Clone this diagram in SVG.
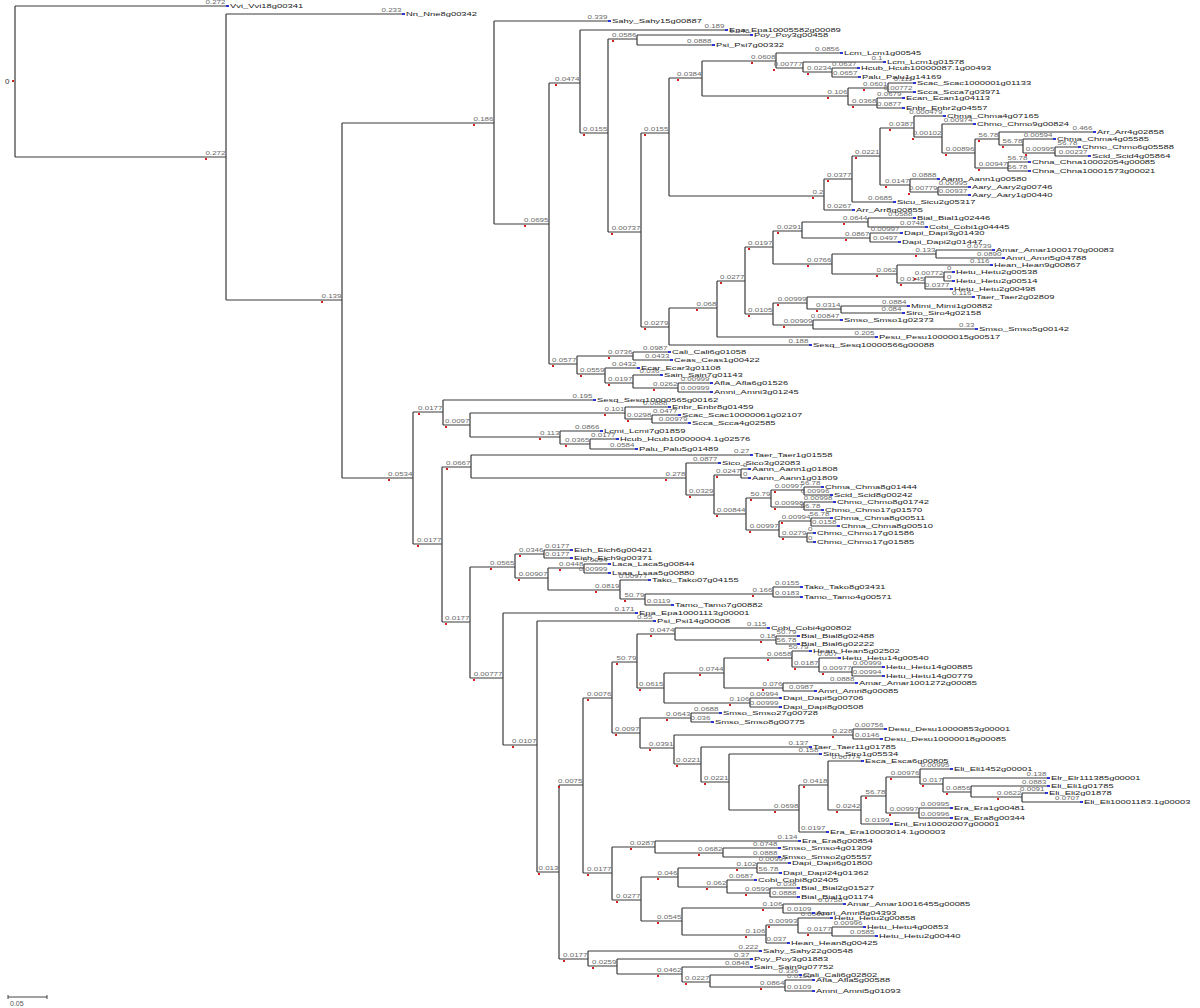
<svg xmlns="http://www.w3.org/2000/svg" width="1200" height="1008" viewBox="0 0 1200 1008">
<style>
.c{fill:none;stroke:#3a3a3a;stroke-width:1.2}
.bl text{font-family:"Liberation Sans",Arial,sans-serif;font-size:8px;fill:#6a6a6a;text-anchor:end;transform-box:fill-box;transform-origin:0 50%;transform:scaleY(.6)}
.lf{font-family:"Liberation Sans",Arial,sans-serif;font-size:9.4px;fill:#1a1a1a;transform-box:fill-box;transform-origin:0 50%;transform:scaleY(.6)}
.lm{fill:#2b35d6}
.rm rect{fill:#d42020}
</style>
<rect width="1200" height="1008" fill="#fff"/>
<g id="connectors" class="c">
<path d="M15 6V157M15 6H226M15 157H226M226 14V300M226 14H402M226 300H342M342 123V478M342 123H494M342 478H413M494 21V224M494 21H608M494 224H549M549 83V364M549 83H580M549 364H577M580 30V133M580 30H725M580 133H608M608 39V232M608 39H637M608 232H641M637 35V45M637 35H750M637 45H712M641 133V327M641 133H669M641 327H669"/>
<path d="M669 78V196M669 78H702M669 196H824M702 61V96M702 61H776M702 96H848M776 53V68M776 53H840M776 68H803M803 62V72M803 62H883M803 72H832M832 68V77M832 68H857M832 77H858M848 88V105M848 88H888M848 105H877M888 83V92M888 83H913M888 92H913M877 98V108M877 98H902M877 108H902"/>
<path d="M824 179V210M824 179H852M824 210H852M852 156V202M852 156H880M852 202H893M880 128V185M880 128H914M880 185H910M914 116V137M914 116H943M914 137H942M942 124V153M942 124H973M942 153H975M975 139V168M975 139H999M975 168H1008M999 132V145M999 132H1093M999 145H1023M1023 139V153M1023 139H1053M1023 153H1055M1055 147V156M1055 147H1078M1055 156H1088M1008 162V171M1008 162H1028M1008 171H1028M910 179V192M910 179H937M910 192H938M938 187V195M938 187H968M938 195H968"/>
<path d="M669 308V345M669 308H717M669 345H809M717 281V337M717 281H745M717 337H875M745 247V314M745 247H773M745 314H773M773 231V264M773 231H802M773 264H832M802 222V238M802 222H868M802 238H870M868 218V227M868 218H913M868 227H925M870 233V242M870 233H900M870 242H898M832 254V274M832 254H936M832 274H897M936 250V258M936 250H992M936 258H1002M897 265V283M897 265H990M897 283H925M925 277V289M925 277H944M925 289H950M944 272V281M944 272H952M944 281H952M773 303V325M773 303H807M773 325H813M807 297V309M807 297H972M807 309H841M841 306V313M841 306H907M841 313H902M813 320V329M813 320H840M813 329H975"/>
<path d="M577 356V374M577 356H633M577 374H605M633 352V360M633 352H668M633 360H670M605 368V383M605 368H637M605 383H633M633 375V388M633 375H660M633 388H678M678 383V392M678 383H710M678 392H710"/>
<path d="M413 412V544M413 412H443M413 544H442M443 400V425M443 400H593M443 425H470M470 413V437M470 413H625M470 437H560M625 407V419M625 407H668M625 419H652M652 415V423M652 415H678M652 423H688M560 431V444M560 431H600M560 444H590M590 439V449M590 439H616M590 449H635"/>
<path d="M442 467V622M442 467H471M442 622H470M471 455V478M471 455H750M471 478H686M686 463V495M686 463H718M686 495H714M714 475V514M714 475H741M714 514H746M741 469V478M741 469H748M741 478H748M746 498V530M746 498H771M746 530H779M771 490V507M771 490H804M771 507H804M804 487V495M804 487H821M804 495H830M804 502V510M804 502H833M804 510H821M779 521V537M779 521H811M779 537H807M811 518V526M811 518H830M811 526H837M807 533V542M807 533H813M807 542H813"/>
<path d="M470 567V678M470 567H515M470 678H503M515 554V578M515 554H544M515 578H548M544 550V558M544 550H570M544 558H570M548 568V590M548 568H584M548 590H620M584 564V573M584 564H608M584 573H608M620 580V599M620 580H648M620 599H645M645 594V605M645 594H773M645 605H671M773 587V597M773 587H800M773 597H800"/>
<path d="M503 613V745M503 613H635M503 745H537M537 621V872M537 621H653M537 872H559M559 785V959M559 785H583M559 959H588M583 698V873M583 698H612M583 873H612"/>
<path d="M612 662V733M612 662H637M612 733H640M637 634V688M637 634H675M637 688H664M675 628V640M675 628H767M675 640H776M776 636V644M776 636H797M776 644H797M664 673V703M664 673H724M664 703H750M724 658V688M724 658H792M724 688H783M792 651V667M792 651H809M792 667H819M819 658V672M819 658H838M819 672H852M852 667V676M852 667H882M852 676H882M783 683V691M783 683H855M783 691H814M750 698V707M750 698H779M750 707H779"/>
<path d="M640 718V748M640 718H691M640 748H674M691 713V722M691 713H719M691 722H711M674 735V764M674 735H853M674 764H701M853 729V739M853 729H884M853 739H880M701 747V782M701 747H809M701 782H729M729 754V810M729 754H819M729 810H799M799 785V832M799 785H828M799 832H826M828 761V810M828 761H861M828 810H861M861 796V824M861 796H886M861 824H890M886 777V813M886 777H920M886 813H919M920 769V784M920 769H950M920 784H943M943 778V792M943 778H1047M943 792H971M971 786V797M971 786H1047M971 797H1022M1022 793V802M1022 793H1045M1022 802H1080M919 808V818M919 808H950M919 818H950"/>
<path d="M612 847V900M612 847H655M612 900H641M655 841V853M655 841H798M655 853H723M723 848V857M723 848H778M723 857H778M641 877V921M641 877H678M641 921H682M678 868V887M678 868H757M678 887H727M757 863V873M757 863H788M757 873H779M727 880V893M727 880H754M727 893H770M770 888V897M770 888H797M770 897H797M682 908V935M682 908H783M682 935H766M783 904V913M783 904H843M783 913H812M766 925V943M766 925H798M766 943H787M798 918V933M798 918H830M798 933H832M832 927V936M832 927H863M832 936H875"/>
<path d="M588 951V966M588 951H759M588 966H617M617 959V974M617 959H750M617 974H682M682 967V982M682 967H750M682 982H710M710 975V987M710 975H799M710 987H785M785 980V991M785 980H812M785 991H812"/>
</g>
<g id="scale-bar">
<path d="M8 997H47M8 995V999M47 995V999" fill="none" stroke="#444" stroke-width="1"/>
<text x="10" y="1006" font-family="Liberation Sans, Arial, sans-serif" font-size="7" fill="#555">0.05</text>
</g>
<g id="root">
<text x="5" y="84" font-family="Liberation Sans, Arial, sans-serif" font-size="8" fill="#333">0</text>
<rect x="12" y="80" width="2" height="2" fill="#d42020"/>
</g>
<g id="internal-nodes" class="rm">
<rect x="205" y="158" width="2" height="2"/><rect x="321" y="301" width="2" height="2"/><rect x="473" y="124" width="2" height="2"/><rect x="388" y="479" width="2" height="2"/><rect x="524" y="225" width="2" height="2"/><rect x="555" y="84" width="2" height="2"/><rect x="552" y="365" width="2" height="2"/><rect x="583" y="134" width="2" height="2"/><rect x="612" y="40" width="2" height="2"/><rect x="611" y="233" width="2" height="2"/><rect x="644" y="134" width="2" height="2"/><rect x="644" y="328" width="2" height="2"/><rect x="677" y="79" width="2" height="2"/><rect x="812" y="197" width="2" height="2"/><rect x="751" y="62" width="2" height="2"/><rect x="827" y="97" width="2" height="2"/><rect x="773" y="69" width="2" height="2"/><rect x="807" y="73" width="2" height="2"/><rect x="863" y="89" width="2" height="2"/><rect x="852" y="106" width="2" height="2"/><rect x="827" y="180" width="2" height="2"/><rect x="855" y="157" width="2" height="2"/><rect x="889" y="129" width="2" height="2"/><rect x="885" y="186" width="2" height="2"/><rect x="912" y="138" width="2" height="2"/><rect x="945" y="154" width="2" height="2"/><rect x="978" y="140" width="2" height="2"/><rect x="978" y="169" width="2" height="2"/><rect x="1002" y="146" width="2" height="2"/><rect x="1025" y="154" width="2" height="2"/><rect x="908" y="193" width="2" height="2"/>
<rect x="696" y="309" width="2" height="2"/><rect x="720" y="282" width="2" height="2"/><rect x="748" y="248" width="2" height="2"/><rect x="748" y="315" width="2" height="2"/><rect x="777" y="232" width="2" height="2"/><rect x="807" y="265" width="2" height="2"/><rect x="843" y="223" width="2" height="2"/><rect x="845" y="239" width="2" height="2"/><rect x="915" y="255" width="2" height="2"/><rect x="876" y="275" width="2" height="2"/><rect x="900" y="284" width="2" height="2"/><rect x="914" y="278" width="2" height="2"/><rect x="777" y="304" width="2" height="2"/><rect x="783" y="326" width="2" height="2"/><rect x="816" y="310" width="2" height="2"/>
<rect x="608" y="357" width="2" height="2"/><rect x="580" y="375" width="2" height="2"/><rect x="608" y="384" width="2" height="2"/><rect x="653" y="389" width="2" height="2"/><rect x="418" y="413" width="2" height="2"/><rect x="417" y="545" width="2" height="2"/><rect x="445" y="426" width="2" height="2"/><rect x="604" y="414" width="2" height="2"/><rect x="539" y="438" width="2" height="2"/><rect x="627" y="420" width="2" height="2"/><rect x="565" y="445" width="2" height="2"/>
<rect x="446" y="468" width="2" height="2"/><rect x="445" y="623" width="2" height="2"/><rect x="665" y="479" width="2" height="2"/><rect x="689" y="496" width="2" height="2"/><rect x="716" y="476" width="2" height="2"/><rect x="716" y="515" width="2" height="2"/><rect x="750" y="499" width="2" height="2"/><rect x="749" y="531" width="2" height="2"/><rect x="774" y="491" width="2" height="2"/><rect x="774" y="508" width="2" height="2"/><rect x="781" y="522" width="2" height="2"/><rect x="782" y="538" width="2" height="2"/>
<rect x="490" y="568" width="2" height="2"/><rect x="473" y="679" width="2" height="2"/><rect x="519" y="555" width="2" height="2"/><rect x="518" y="579" width="2" height="2"/><rect x="559" y="569" width="2" height="2"/><rect x="595" y="591" width="2" height="2"/><rect x="624" y="600" width="2" height="2"/><rect x="752" y="595" width="2" height="2"/><rect x="512" y="746" width="2" height="2"/><rect x="538" y="873" width="2" height="2"/><rect x="558" y="786" width="2" height="2"/><rect x="563" y="960" width="2" height="2"/><rect x="587" y="699" width="2" height="2"/><rect x="587" y="874" width="2" height="2"/>
<rect x="616" y="663" width="2" height="2"/><rect x="615" y="734" width="2" height="2"/><rect x="650" y="635" width="2" height="2"/><rect x="639" y="689" width="2" height="2"/><rect x="760" y="641" width="2" height="2"/><rect x="699" y="674" width="2" height="2"/><rect x="729" y="704" width="2" height="2"/><rect x="767" y="659" width="2" height="2"/><rect x="762" y="689" width="2" height="2"/><rect x="794" y="668" width="2" height="2"/><rect x="822" y="673" width="2" height="2"/>
<rect x="666" y="719" width="2" height="2"/><rect x="649" y="749" width="2" height="2"/><rect x="832" y="736" width="2" height="2"/><rect x="676" y="765" width="2" height="2"/><rect x="704" y="783" width="2" height="2"/><rect x="774" y="811" width="2" height="2"/><rect x="803" y="786" width="2" height="2"/><rect x="836" y="811" width="2" height="2"/><rect x="865" y="797" width="2" height="2"/><rect x="890" y="778" width="2" height="2"/><rect x="889" y="814" width="2" height="2"/><rect x="922" y="785" width="2" height="2"/><rect x="946" y="793" width="2" height="2"/><rect x="997" y="798" width="2" height="2"/>
<rect x="630" y="848" width="2" height="2"/><rect x="616" y="901" width="2" height="2"/><rect x="698" y="854" width="2" height="2"/><rect x="657" y="878" width="2" height="2"/><rect x="657" y="922" width="2" height="2"/><rect x="736" y="869" width="2" height="2"/><rect x="706" y="888" width="2" height="2"/><rect x="745" y="894" width="2" height="2"/><rect x="762" y="909" width="2" height="2"/><rect x="745" y="936" width="2" height="2"/><rect x="768" y="926" width="2" height="2"/><rect x="807" y="934" width="2" height="2"/><rect x="592" y="967" width="2" height="2"/><rect x="657" y="975" width="2" height="2"/><rect x="685" y="983" width="2" height="2"/><rect x="760" y="988" width="2" height="2"/>
</g>
<g id="branch-lengths" class="bl">
<text x="225.5" y="5.5">0.272</text><text x="225.5" y="156.5">0.272</text><text x="401.5" y="13.5">0.233</text><text x="341.5" y="299.5">0.139</text><text x="493.5" y="122.5">0.186</text><text x="412.5" y="477.5">0.0534</text><text x="607.5" y="20.5">0.339</text><text x="548.5" y="223.5">0.0695</text><text x="579.5" y="82.5">0.0474</text><text x="576.5" y="363.5">0.0577</text><text x="724.5" y="29.5">0.189</text><text x="607.5" y="132.5">0.0155</text><text x="636.5" y="38.5">0.0586</text><text x="640.5" y="231.5">0.00737</text><text x="749.5" y="34.5">0.148</text><text x="711.5" y="44.5">0.0888</text><text x="668.5" y="132.5">0.0155</text><text x="668.5" y="326.5">0.0279</text>
<text x="701.5" y="77.5">0.0384</text><text x="823.5" y="195.5">0.2</text><text x="775.5" y="60.5">0.0608</text><text x="847.5" y="95.5">0.106</text><text x="839.5" y="52.5">0.0856</text><text x="802.5" y="67.5">0.00777</text><text x="882.5" y="61.5">0.1</text><text x="831.5" y="71.5">0.0234</text><text x="856.5" y="67.5">0.0637</text><text x="857.5" y="76.5">0.0657</text><text x="887.5" y="87.5">0.0601</text><text x="876.5" y="104.5">0.0368</text><text x="912.5" y="82.5">0.111</text><text x="912.5" y="91.5">0.00772</text><text x="901.5" y="97.5">0.0679</text><text x="901.5" y="107.5">0.0877</text>
<text x="851.5" y="178.5">0.0377</text><text x="851.5" y="209.5">0.0267</text><text x="879.5" y="155.5">0.0221</text><text x="892.5" y="201.5">0.0685</text><text x="913.5" y="127.5">0.0387</text><text x="909.5" y="184.5">0.0147</text><text x="942.5" y="115.5">0.000479</text><text x="941.5" y="136.5">0.00102</text><text x="972.5" y="123.5">0.00974</text><text x="974.5" y="152.5">0.00896</text><text x="998.5" y="138.5">56.78</text><text x="1007.5" y="167.5">0.00947</text><text x="1092.5" y="131.5">0.466</text><text x="1022.5" y="144.5">56.78</text><text x="1052.5" y="138.5">0.00594</text><text x="1054.5" y="152.5">0.00995</text><text x="1077.5" y="146.5">56.78</text><text x="1087.5" y="155.5">0.00237</text><text x="1027.5" y="161.5">56.78</text><text x="1027.5" y="170.5">56.78</text><text x="936.5" y="178.5">0.0888</text><text x="937.5" y="191.5">0.00779</text><text x="967.5" y="186.5">0.00995</text><text x="967.5" y="194.5">0.00937</text>
<text x="716.5" y="307.5">0.068</text><text x="808.5" y="344.5">0.188</text><text x="744.5" y="280.5">0.0277</text><text x="874.5" y="336.5">0.205</text><text x="772.5" y="246.5">0.0197</text><text x="772.5" y="313.5">0.0105</text><text x="801.5" y="230.5">0.0291</text><text x="831.5" y="263.5">0.0766</text><text x="867.5" y="221.5">0.0644</text><text x="869.5" y="237.5">0.0867</text><text x="912.5" y="217.5">0.0588</text><text x="924.5" y="226.5">0.0748</text><text x="899.5" y="232.5">0.00997</text><text x="897.5" y="241.5">0.0497</text><text x="935.5" y="253.5">0.133</text><text x="896.5" y="273.5">0.062</text><text x="991.5" y="249.5">0.0739</text><text x="1001.5" y="257.5">0.0890</text><text x="989.5" y="264.5">0.116</text><text x="924.5" y="282.5">0.0145</text><text x="943.5" y="276.5">0.00772</text><text x="949.5" y="288.5">0.0377</text><text x="951.5" y="271.5">0</text><text x="951.5" y="280.5">0</text><text x="806.5" y="302.5">0.00999</text><text x="812.5" y="324.5">0.00909</text><text x="971.5" y="296.5">0.116</text><text x="840.5" y="308.5">0.0314</text><text x="906.5" y="305.5">0.0884</text><text x="901.5" y="312.5">0.084</text><text x="839.5" y="319.5">0.00847</text><text x="974.5" y="328.5">0.33</text>
<text x="632.5" y="355.5">0.0736</text><text x="604.5" y="373.5">0.0559</text><text x="667.5" y="351.5">0.0987</text><text x="669.5" y="359.5">0.0433</text><text x="636.5" y="367.5">0.0432</text><text x="632.5" y="382.5">0.0197</text><text x="659.5" y="374.5">0.036</text><text x="677.5" y="387.5">0.0262</text><text x="709.5" y="382.5">0.00999</text><text x="709.5" y="391.5">0.00999</text>
<text x="442.5" y="411.5">0.0177</text><text x="441.5" y="543.5">0.0177</text><text x="592.5" y="399.5">0.195</text><text x="469.5" y="424.5">0.0097</text><text x="624.5" y="412.5">0.101</text><text x="559.5" y="436.5">0.113</text><text x="667.5" y="406.5">0.0888</text><text x="651.5" y="418.5">0.0298</text><text x="677.5" y="414.5">0.0477</text><text x="687.5" y="422.5">0.00979</text><text x="599.5" y="430.5">0.0866</text><text x="589.5" y="443.5">0.0365</text><text x="615.5" y="438.5">0.0177</text><text x="634.5" y="448.5">0.0584</text>
<text x="470.5" y="466.5">0.0667</text><text x="469.5" y="621.5">0.0177</text><text x="749.5" y="454.5">0.27</text><text x="685.5" y="477.5">0.278</text><text x="717.5" y="462.5">0.0877</text><text x="713.5" y="494.5">0.0329</text><text x="740.5" y="474.5">0.0247</text><text x="745.5" y="513.5">0.00844</text><text x="747.5" y="468.5">0</text><text x="747.5" y="477.5">0</text><text x="770.5" y="497.5">50.79</text><text x="778.5" y="529.5">0.00997</text><text x="803.5" y="489.5">0.00997</text><text x="803.5" y="506.5">0.00998</text><text x="820.5" y="486.5">56.78</text><text x="829.5" y="494.5">0.00996</text><text x="832.5" y="501.5">0.00998</text><text x="820.5" y="509.5">56.78</text><text x="810.5" y="520.5">0.00994</text><text x="806.5" y="536.5">0.0279</text><text x="829.5" y="517.5">56.78</text><text x="836.5" y="525.5">0.0158</text><text x="812.5" y="532.5">0</text><text x="812.5" y="541.5">0</text>
<text x="514.5" y="566.5">0.0565</text><text x="502.5" y="677.5">0.00777</text><text x="543.5" y="553.5">0.0346</text><text x="547.5" y="577.5">0.00907</text><text x="569.5" y="549.5">0.0177</text><text x="569.5" y="557.5">0.0177</text><text x="583.5" y="567.5">0.0448</text><text x="619.5" y="589.5">0.0819</text><text x="607.5" y="563.5">0.0094</text><text x="607.5" y="572.5">0.00999</text><text x="647.5" y="579.5">0.00977</text><text x="644.5" y="598.5">50.79</text><text x="772.5" y="593.5">0.166</text><text x="670.5" y="604.5">0.0119</text><text x="799.5" y="586.5">0.0155</text><text x="799.5" y="596.5">0.0183</text>
<text x="634.5" y="612.5">0.171</text><text x="536.5" y="744.5">0.0107</text><text x="652.5" y="620.5">0.55</text><text x="558.5" y="871.5">0.013</text><text x="582.5" y="784.5">0.0075</text><text x="587.5" y="958.5">0.0177</text><text x="611.5" y="697.5">0.0076</text><text x="611.5" y="872.5">0.0177</text>
<text x="636.5" y="661.5">50.79</text><text x="639.5" y="732.5">0.0097</text><text x="674.5" y="633.5">0.0474</text><text x="663.5" y="687.5">0.0615</text><text x="766.5" y="627.5">0.115</text><text x="775.5" y="639.5">0.18</text><text x="796.5" y="635.5">50.79</text><text x="796.5" y="643.5">56.78</text><text x="723.5" y="672.5">0.0744</text><text x="749.5" y="702.5">0.106</text><text x="791.5" y="657.5">0.0658</text><text x="782.5" y="687.5">0.076</text><text x="808.5" y="650.5">50.79</text><text x="818.5" y="666.5">0.0187</text><text x="837.5" y="657.5">0.007</text><text x="851.5" y="671.5">0.00977</text><text x="881.5" y="666.5">0.00999</text><text x="881.5" y="675.5">0.00994</text><text x="854.5" y="682.5">0.0888</text><text x="813.5" y="690.5">0.0987</text><text x="778.5" y="697.5">0.00994</text><text x="778.5" y="706.5">0.00999</text>
<text x="690.5" y="717.5">0.0643</text><text x="673.5" y="747.5">0.0391</text><text x="718.5" y="712.5">0.0688</text><text x="710.5" y="721.5">0.036</text><text x="852.5" y="734.5">0.228</text><text x="700.5" y="763.5">0.0221</text><text x="883.5" y="728.5">0.00756</text><text x="879.5" y="738.5">0.0146</text><text x="808.5" y="746.5">0.137</text><text x="728.5" y="781.5">0.0221</text><text x="818.5" y="753.5">0.158</text><text x="798.5" y="809.5">0.0698</text><text x="827.5" y="784.5">0.0418</text><text x="825.5" y="831.5">0.0197</text><text x="860.5" y="760.5">0.00774</text><text x="860.5" y="809.5">0.0242</text><text x="885.5" y="795.5">56.78</text><text x="889.5" y="823.5">0.0199</text><text x="919.5" y="776.5">0.00976</text><text x="918.5" y="812.5">0.00997</text><text x="949.5" y="768.5">0.00995</text><text x="942.5" y="783.5">0.017</text><text x="1046.5" y="777.5">0.138</text><text x="970.5" y="791.5">0.0856</text><text x="1046.5" y="785.5">0.0883</text><text x="1021.5" y="796.5">0.0622</text><text x="1044.5" y="792.5">0.0091</text><text x="1079.5" y="801.5">0.0707</text><text x="949.5" y="807.5">0.00995</text><text x="949.5" y="817.5">0.00996</text>
<text x="654.5" y="846.5">0.0287</text><text x="640.5" y="899.5">0.0277</text><text x="797.5" y="840.5">0.134</text><text x="722.5" y="852.5">0.0682</text><text x="777.5" y="847.5">0.0748</text><text x="777.5" y="856.5">0.0888</text><text x="677.5" y="876.5">0.046</text><text x="681.5" y="920.5">0.0545</text><text x="756.5" y="867.5">0.102</text><text x="726.5" y="886.5">0.062</text><text x="787.5" y="862.5">0.00997</text><text x="778.5" y="872.5">56.78</text><text x="753.5" y="879.5">0.0687</text><text x="769.5" y="892.5">0.0599</text><text x="796.5" y="887.5">0.038</text><text x="796.5" y="896.5">0.0888</text><text x="782.5" y="907.5">0.106</text><text x="765.5" y="934.5">0.106</text><text x="842.5" y="903.5">0.0758</text><text x="811.5" y="912.5">0.0109</text><text x="797.5" y="924.5">0.00993</text><text x="786.5" y="942.5">0.037</text><text x="829.5" y="917.5">0.00994</text><text x="831.5" y="932.5">0.0177</text><text x="862.5" y="926.5">0.00996</text><text x="874.5" y="935.5">0.0585</text>
<text x="758.5" y="950.5">0.222</text><text x="616.5" y="965.5">0.0259</text><text x="749.5" y="958.5">0.37</text><text x="681.5" y="973.5">0.0462</text><text x="749.5" y="966.5">0.0848</text><text x="709.5" y="981.5">0.0227</text><text x="798.5" y="974.5">0.336</text><text x="784.5" y="986.5">0.0864</text><text x="811.5" y="979.5">0.0109</text><text x="811.5" y="990.5">0.0109</text>
</g>
<g id="leaves">
<g id="Vvi_Vvi18g00341"><rect class="lm" x="226" y="5" width="3" height="2"/><text class="lf" x="230" y="9.3">Vvi_Vvi18g00341</text></g>
<g id="Nn_Nne8g00342"><rect class="lm" x="402" y="13" width="3" height="2"/><text class="lf" x="406" y="17.3">Nn_Nne8g00342</text></g>
<g id="Sahy_Sahy15g00887"><rect class="lm" x="608" y="20" width="3" height="2"/><text class="lf" x="612" y="24.3">Sahy_Sahy15g00887</text></g>
<g id="Epa_Epa10005582g00089"><rect class="lm" x="725" y="29" width="3" height="2"/><text class="lf" x="729" y="33.3">Epa_Epa10005582g00089</text></g>
<g id="Poy_Poy3g00458"><rect class="lm" x="750" y="34" width="3" height="2"/><text class="lf" x="754" y="38.3">Poy_Poy3g00458</text></g>
<g id="Psi_Psi7g00332"><rect class="lm" x="712" y="44" width="3" height="2"/><text class="lf" x="716" y="48.3">Psi_Psi7g00332</text></g>
<g id="Lcm_Lcm1g00545"><rect class="lm" x="840" y="52" width="3" height="2"/><text class="lf" x="844" y="56.3">Lcm_Lcm1g00545</text></g>
<g id="Lcm_Lcm1g01578"><rect class="lm" x="883" y="61" width="3" height="2"/><text class="lf" x="887" y="65.3">Lcm_Lcm1g01578</text></g>
<g id="Hcub_Hcub10000087.1g00493"><rect class="lm" x="857" y="67" width="3" height="2"/><text class="lf" x="861" y="71.3">Hcub_Hcub10000087.1g00493</text></g>
<g id="Palu_Palu1g14169"><rect class="lm" x="858" y="76" width="3" height="2"/><text class="lf" x="862" y="80.3">Palu_Palu1g14169</text></g>
<g id="Scac_Scac1000001g01133"><rect class="lm" x="913" y="82" width="3" height="2"/><text class="lf" x="917" y="86.3">Scac_Scac1000001g01133</text></g>
<g id="Scca_Scca7g03971"><rect class="lm" x="913" y="91" width="3" height="2"/><text class="lf" x="917" y="95.3">Scca_Scca7g03971</text></g>
<g id="Ecan_Ecan1g04113"><rect class="lm" x="902" y="97" width="3" height="2"/><text class="lf" x="906" y="101.3">Ecan_Ecan1g04113</text></g>
<g id="Enbr_Enbr2g04557"><rect class="lm" x="902" y="107" width="3" height="2"/><text class="lf" x="906" y="111.3">Enbr_Enbr2g04557</text></g>
<g id="Chma_Chma4g07165"><rect class="lm" x="943" y="115" width="3" height="2"/><text class="lf" x="947" y="119.3">Chma_Chma4g07165</text></g>
<g id="Chmo_Chmo9g00824"><rect class="lm" x="973" y="123" width="3" height="2"/><text class="lf" x="977" y="127.3">Chmo_Chmo9g00824</text></g>
<g id="Arr_Arr4g02858"><rect class="lm" x="1093" y="131" width="3" height="2"/><text class="lf" x="1097" y="135.3">Arr_Arr4g02858</text></g>
<g id="Chma_Chma4g05585"><rect class="lm" x="1053" y="138" width="3" height="2"/><text class="lf" x="1057" y="142.3">Chma_Chma4g05585</text></g>
<g id="Chmo_Chmo6g05588"><rect class="lm" x="1078" y="146" width="3" height="2"/><text class="lf" x="1082" y="150.3">Chmo_Chmo6g05588</text></g>
<g id="Scid_Scid4g05864"><rect class="lm" x="1088" y="155" width="3" height="2"/><text class="lf" x="1092" y="159.3">Scid_Scid4g05864</text></g>
<g id="Chna_Chna10002054g00085"><rect class="lm" x="1028" y="161" width="3" height="2"/><text class="lf" x="1032" y="165.3">Chna_Chna10002054g00085</text></g>
<g id="Chna_Chna10001573g00021"><rect class="lm" x="1028" y="170" width="3" height="2"/><text class="lf" x="1032" y="174.3">Chna_Chna10001573g00021</text></g>
<g id="Aann_Aann1g00580"><rect class="lm" x="937" y="178" width="3" height="2"/><text class="lf" x="941" y="182.3">Aann_Aann1g00580</text></g>
<g id="Aary_Aary2g00746"><rect class="lm" x="968" y="186" width="3" height="2"/><text class="lf" x="972" y="190.3">Aary_Aary2g00746</text></g>
<g id="Aary_Aary1g00440"><rect class="lm" x="968" y="194" width="3" height="2"/><text class="lf" x="972" y="198.3">Aary_Aary1g00440</text></g>
<g id="Sicu_Sicu2g05317"><rect class="lm" x="893" y="201" width="3" height="2"/><text class="lf" x="897" y="205.3">Sicu_Sicu2g05317</text></g>
<g id="Arr_Arr8g00855"><rect class="lm" x="852" y="209" width="3" height="2"/><text class="lf" x="856" y="213.3">Arr_Arr8g00855</text></g>
<g id="Bial_Bial1g02446"><rect class="lm" x="913" y="217" width="3" height="2"/><text class="lf" x="917" y="221.3">Bial_Bial1g02446</text></g>
<g id="Cobi_Cobi1g04445"><rect class="lm" x="925" y="226" width="3" height="2"/><text class="lf" x="929" y="230.3">Cobi_Cobi1g04445</text></g>
<g id="Dapi_Dapi3g01430"><rect class="lm" x="900" y="232" width="3" height="2"/><text class="lf" x="904" y="236.3">Dapi_Dapi3g01430</text></g>
<g id="Dapi_Dapi2g01447"><rect class="lm" x="898" y="241" width="3" height="2"/><text class="lf" x="902" y="245.3">Dapi_Dapi2g01447</text></g>
<g id="Amar_Amar1000170g00083"><rect class="lm" x="992" y="249" width="3" height="2"/><text class="lf" x="996" y="253.3">Amar_Amar1000170g00083</text></g>
<g id="Amri_Amri5g04788"><rect class="lm" x="1002" y="257" width="3" height="2"/><text class="lf" x="1006" y="261.3">Amri_Amri5g04788</text></g>
<g id="Hean_Hean9g00867"><rect class="lm" x="990" y="264" width="3" height="2"/><text class="lf" x="994" y="268.3">Hean_Hean9g00867</text></g>
<g id="Hetu_Hetu2g00538"><rect class="lm" x="952" y="271" width="3" height="2"/><text class="lf" x="956" y="275.3">Hetu_Hetu2g00538</text></g>
<g id="Hetu_Hetu2g00514"><rect class="lm" x="952" y="280" width="3" height="2"/><text class="lf" x="956" y="284.3">Hetu_Hetu2g00514</text></g>
<g id="Hetu_Hetu2g00498"><rect class="lm" x="950" y="288" width="3" height="2"/><text class="lf" x="954" y="292.3">Hetu_Hetu2g00498</text></g>
<g id="Taer_Taer2g02809"><rect class="lm" x="972" y="296" width="3" height="2"/><text class="lf" x="976" y="300.3">Taer_Taer2g02809</text></g>
<g id="Mimi_Mimi1g00882"><rect class="lm" x="907" y="305" width="3" height="2"/><text class="lf" x="911" y="309.3">Mimi_Mimi1g00882</text></g>
<g id="Siro_Siro4g02158"><rect class="lm" x="902" y="312" width="3" height="2"/><text class="lf" x="906" y="316.3">Siro_Siro4g02158</text></g>
<g id="Smso_Smso1g02373"><rect class="lm" x="840" y="319" width="3" height="2"/><text class="lf" x="844" y="323.3">Smso_Smso1g02373</text></g>
<g id="Smso_Smso5g00142"><rect class="lm" x="975" y="328" width="3" height="2"/><text class="lf" x="979" y="332.3">Smso_Smso5g00142</text></g>
<g id="Pesu_Pesu10000015g00517"><rect class="lm" x="875" y="336" width="3" height="2"/><text class="lf" x="879" y="340.3">Pesu_Pesu10000015g00517</text></g>
<g id="Sesq_Sesq10000566g00088"><rect class="lm" x="809" y="344" width="3" height="2"/><text class="lf" x="813" y="348.3">Sesq_Sesq10000566g00088</text></g>
<g id="Cali_Cali6g01058"><rect class="lm" x="668" y="351" width="3" height="2"/><text class="lf" x="672" y="355.3">Cali_Cali6g01058</text></g>
<g id="Ceas_Ceas1g00422"><rect class="lm" x="670" y="359" width="3" height="2"/><text class="lf" x="674" y="363.3">Ceas_Ceas1g00422</text></g>
<g id="Ecar_Ecar3g01108"><rect class="lm" x="637" y="367" width="3" height="2"/><text class="lf" x="641" y="371.3">Ecar_Ecar3g01108</text></g>
<g id="Sain_Sain7g01143"><rect class="lm" x="660" y="374" width="3" height="2"/><text class="lf" x="664" y="378.3">Sain_Sain7g01143</text></g>
<g id="Afla_Afla6g01526"><rect class="lm" x="710" y="382" width="3" height="2"/><text class="lf" x="714" y="386.3">Afla_Afla6g01526</text></g>
<g id="Amni_Amni3g01245"><rect class="lm" x="710" y="391" width="3" height="2"/><text class="lf" x="714" y="395.3">Amni_Amni3g01245</text></g>
<g id="Sesq_Sesq10000565g00162"><rect class="lm" x="593" y="399" width="3" height="2"/><text class="lf" x="597" y="403.3">Sesq_Sesq10000565g00162</text></g>
<g id="Enbr_Enbr8g01459"><rect class="lm" x="668" y="406" width="3" height="2"/><text class="lf" x="672" y="410.3">Enbr_Enbr8g01459</text></g>
<g id="Scac_Scac10000061g02107"><rect class="lm" x="678" y="414" width="3" height="2"/><text class="lf" x="682" y="418.3">Scac_Scac10000061g02107</text></g>
<g id="Scca_Scca4g02585"><rect class="lm" x="688" y="422" width="3" height="2"/><text class="lf" x="692" y="426.3">Scca_Scca4g02585</text></g>
<g id="Lcmi_Lcmi7g01859"><rect class="lm" x="600" y="430" width="3" height="2"/><text class="lf" x="604" y="434.3">Lcmi_Lcmi7g01859</text></g>
<g id="Hcub_Hcub10000004.1g02576"><rect class="lm" x="616" y="438" width="3" height="2"/><text class="lf" x="620" y="442.3">Hcub_Hcub10000004.1g02576</text></g>
<g id="Palu_Palu5g01489"><rect class="lm" x="635" y="448" width="3" height="2"/><text class="lf" x="639" y="452.3">Palu_Palu5g01489</text></g>
<g id="Taer_Taer1g01558"><rect class="lm" x="750" y="454" width="3" height="2"/><text class="lf" x="754" y="458.3">Taer_Taer1g01558</text></g>
<g id="Sico_Sico3g02083"><rect class="lm" x="718" y="462" width="3" height="2"/><text class="lf" x="722" y="466.3">Sico_Sico3g02083</text></g>
<g id="Aann_Aann1g01808"><rect class="lm" x="748" y="468" width="3" height="2"/><text class="lf" x="752" y="472.3">Aann_Aann1g01808</text></g>
<g id="Aann_Aann1g01809"><rect class="lm" x="748" y="477" width="3" height="2"/><text class="lf" x="752" y="481.3">Aann_Aann1g01809</text></g>
<g id="Chma_Chma8g01444"><rect class="lm" x="821" y="486" width="3" height="2"/><text class="lf" x="825" y="490.3">Chma_Chma8g01444</text></g>
<g id="Scid_Scid8g00242"><rect class="lm" x="830" y="494" width="3" height="2"/><text class="lf" x="834" y="498.3">Scid_Scid8g00242</text></g>
<g id="Chmo_Chmo8g01742"><rect class="lm" x="833" y="501" width="3" height="2"/><text class="lf" x="837" y="505.3">Chmo_Chmo8g01742</text></g>
<g id="Chmo_Chmo17g01570"><rect class="lm" x="821" y="509" width="3" height="2"/><text class="lf" x="825" y="513.3">Chmo_Chmo17g01570</text></g>
<g id="Chma_Chma8g00511"><rect class="lm" x="830" y="517" width="3" height="2"/><text class="lf" x="834" y="521.3">Chma_Chma8g00511</text></g>
<g id="Chma_Chma8g00510"><rect class="lm" x="837" y="525" width="3" height="2"/><text class="lf" x="841" y="529.3">Chma_Chma8g00510</text></g>
<g id="Chmo_Chmo17g01586"><rect class="lm" x="813" y="532" width="3" height="2"/><text class="lf" x="817" y="536.3">Chmo_Chmo17g01586</text></g>
<g id="Chmo_Chmo17g01585"><rect class="lm" x="813" y="541" width="3" height="2"/><text class="lf" x="817" y="545.3">Chmo_Chmo17g01585</text></g>
<g id="Eich_Eich6g00421"><rect class="lm" x="570" y="549" width="3" height="2"/><text class="lf" x="574" y="553.3">Eich_Eich6g00421</text></g>
<g id="Eich_Eich9g00371"><rect class="lm" x="570" y="557" width="3" height="2"/><text class="lf" x="574" y="561.3">Eich_Eich9g00371</text></g>
<g id="Laca_Laca5g00844"><rect class="lm" x="608" y="563" width="3" height="2"/><text class="lf" x="612" y="567.3">Laca_Laca5g00844</text></g>
<g id="Lsaa_Lsaa5g00880"><rect class="lm" x="608" y="572" width="3" height="2"/><text class="lf" x="612" y="576.3">Lsaa_Lsaa5g00880</text></g>
<g id="Tako_Tako07g04155"><rect class="lm" x="648" y="579" width="3" height="2"/><text class="lf" x="652" y="583.3">Tako_Tako07g04155</text></g>
<g id="Tako_Tako8g03431"><rect class="lm" x="800" y="586" width="3" height="2"/><text class="lf" x="804" y="590.3">Tako_Tako8g03431</text></g>
<g id="Tamo_Tamo4g00571"><rect class="lm" x="800" y="596" width="3" height="2"/><text class="lf" x="804" y="600.3">Tamo_Tamo4g00571</text></g>
<g id="Tamo_Tamo7g00882"><rect class="lm" x="671" y="604" width="3" height="2"/><text class="lf" x="675" y="608.3">Tamo_Tamo7g00882</text></g>
<g id="Epa_Epa10001113g00001"><rect class="lm" x="635" y="612" width="3" height="2"/><text class="lf" x="639" y="616.3">Epa_Epa10001113g00001</text></g>
<g id="Psi_Psi14g00008"><rect class="lm" x="653" y="620" width="3" height="2"/><text class="lf" x="657" y="624.3">Psi_Psi14g00008</text></g>
<g id="Cobi_Cobi4g00802"><rect class="lm" x="767" y="627" width="3" height="2"/><text class="lf" x="771" y="631.3">Cobi_Cobi4g00802</text></g>
<g id="Bial_Bial8g02488"><rect class="lm" x="797" y="635" width="3" height="2"/><text class="lf" x="801" y="639.3">Bial_Bial8g02488</text></g>
<g id="Bial_Bial6g02222"><rect class="lm" x="797" y="643" width="3" height="2"/><text class="lf" x="801" y="647.3">Bial_Bial6g02222</text></g>
<g id="Hean_Hean5g02502"><rect class="lm" x="809" y="650" width="3" height="2"/><text class="lf" x="813" y="654.3">Hean_Hean5g02502</text></g>
<g id="Hetu_Hetu14g00540"><rect class="lm" x="838" y="657" width="3" height="2"/><text class="lf" x="842" y="661.3">Hetu_Hetu14g00540</text></g>
<g id="Hetu_Hetu14g00885"><rect class="lm" x="882" y="666" width="3" height="2"/><text class="lf" x="886" y="670.3">Hetu_Hetu14g00885</text></g>
<g id="Hetu_Hetu14g00779"><rect class="lm" x="882" y="675" width="3" height="2"/><text class="lf" x="886" y="679.3">Hetu_Hetu14g00779</text></g>
<g id="Amar_Amar1001272g00085"><rect class="lm" x="855" y="682" width="3" height="2"/><text class="lf" x="859" y="686.3">Amar_Amar1001272g00085</text></g>
<g id="Amri_Amri8g00085"><rect class="lm" x="814" y="690" width="3" height="2"/><text class="lf" x="818" y="694.3">Amri_Amri8g00085</text></g>
<g id="Dapi_Dapi5g00706"><rect class="lm" x="779" y="697" width="3" height="2"/><text class="lf" x="783" y="701.3">Dapi_Dapi5g00706</text></g>
<g id="Dapi_Dapi8g00508"><rect class="lm" x="779" y="706" width="3" height="2"/><text class="lf" x="783" y="710.3">Dapi_Dapi8g00508</text></g>
<g id="Smso_Smso27g00728"><rect class="lm" x="719" y="712" width="3" height="2"/><text class="lf" x="723" y="716.3">Smso_Smso27g00728</text></g>
<g id="Smso_Smso8g00775"><rect class="lm" x="711" y="721" width="3" height="2"/><text class="lf" x="715" y="725.3">Smso_Smso8g00775</text></g>
<g id="Desu_Desu10000853g00001"><rect class="lm" x="884" y="728" width="3" height="2"/><text class="lf" x="888" y="732.3">Desu_Desu10000853g00001</text></g>
<g id="Desu_Desu10000018g00085"><rect class="lm" x="880" y="738" width="3" height="2"/><text class="lf" x="884" y="742.3">Desu_Desu10000018g00085</text></g>
<g id="Taer_Taer11g01785"><rect class="lm" x="809" y="746" width="3" height="2"/><text class="lf" x="813" y="750.3">Taer_Taer11g01785</text></g>
<g id="Siro_Siro1g05534"><rect class="lm" x="819" y="753" width="3" height="2"/><text class="lf" x="823" y="757.3">Siro_Siro1g05534</text></g>
<g id="Esca_Esca6g00805"><rect class="lm" x="861" y="760" width="3" height="2"/><text class="lf" x="865" y="764.3">Esca_Esca6g00805</text></g>
<g id="Eli_Eli1452g00001"><rect class="lm" x="950" y="768" width="3" height="2"/><text class="lf" x="954" y="772.3">Eli_Eli1452g00001</text></g>
<g id="Elr_Elr111385g00001"><rect class="lm" x="1047" y="777" width="3" height="2"/><text class="lf" x="1051" y="781.3">Elr_Elr111385g00001</text></g>
<g id="Eli_Eli1g01785"><rect class="lm" x="1047" y="785" width="3" height="2"/><text class="lf" x="1051" y="789.3">Eli_Eli1g01785</text></g>
<g id="Eli_Eli2g01878"><rect class="lm" x="1045" y="792" width="3" height="2"/><text class="lf" x="1049" y="796.3">Eli_Eli2g01878</text></g>
<g id="Eli_Eli10001183.1g00003"><rect class="lm" x="1080" y="801" width="3" height="2"/><text class="lf" x="1084" y="805.3">Eli_Eli10001183.1g00003</text></g>
<g id="Era_Era1g00481"><rect class="lm" x="950" y="807" width="3" height="2"/><text class="lf" x="954" y="811.3">Era_Era1g00481</text></g>
<g id="Era_Era8g00344"><rect class="lm" x="950" y="817" width="3" height="2"/><text class="lf" x="954" y="821.3">Era_Era8g00344</text></g>
<g id="Eni_Eni10002007g00001"><rect class="lm" x="890" y="823" width="3" height="2"/><text class="lf" x="894" y="827.3">Eni_Eni10002007g00001</text></g>
<g id="Era_Era10003014.1g00003"><rect class="lm" x="826" y="831" width="3" height="2"/><text class="lf" x="830" y="835.3">Era_Era10003014.1g00003</text></g>
<g id="Era_Era8g00854"><rect class="lm" x="798" y="840" width="3" height="2"/><text class="lf" x="802" y="844.3">Era_Era8g00854</text></g>
<g id="Smso_Smso4g01309"><rect class="lm" x="778" y="847" width="3" height="2"/><text class="lf" x="782" y="851.3">Smso_Smso4g01309</text></g>
<g id="Smso_Smso2g05557"><rect class="lm" x="778" y="856" width="3" height="2"/><text class="lf" x="782" y="860.3">Smso_Smso2g05557</text></g>
<g id="Dapi_Dapi6g01800"><rect class="lm" x="788" y="862" width="3" height="2"/><text class="lf" x="792" y="866.3">Dapi_Dapi6g01800</text></g>
<g id="Dapi_Dapi24g01362"><rect class="lm" x="779" y="872" width="3" height="2"/><text class="lf" x="783" y="876.3">Dapi_Dapi24g01362</text></g>
<g id="Cobi_Cobi8g02405"><rect class="lm" x="754" y="879" width="3" height="2"/><text class="lf" x="758" y="883.3">Cobi_Cobi8g02405</text></g>
<g id="Bial_Bial2g01527"><rect class="lm" x="797" y="887" width="3" height="2"/><text class="lf" x="801" y="891.3">Bial_Bial2g01527</text></g>
<g id="Bial_Bial1g01174"><rect class="lm" x="797" y="896" width="3" height="2"/><text class="lf" x="801" y="900.3">Bial_Bial1g01174</text></g>
<g id="Amar_Amar10016455g00085"><rect class="lm" x="843" y="903" width="3" height="2"/><text class="lf" x="847" y="907.3">Amar_Amar10016455g00085</text></g>
<g id="Amri_Amri8g04393"><rect class="lm" x="812" y="912" width="3" height="2"/><text class="lf" x="816" y="916.3">Amri_Amri8g04393</text></g>
<g id="Hetu_Hetu2g00858"><rect class="lm" x="830" y="917" width="3" height="2"/><text class="lf" x="834" y="921.3">Hetu_Hetu2g00858</text></g>
<g id="Hetu_Hetu4g00853"><rect class="lm" x="863" y="926" width="3" height="2"/><text class="lf" x="867" y="930.3">Hetu_Hetu4g00853</text></g>
<g id="Hetu_Hetu2g00440"><rect class="lm" x="875" y="935" width="3" height="2"/><text class="lf" x="879" y="939.3">Hetu_Hetu2g00440</text></g>
<g id="Hean_Hean8g00425"><rect class="lm" x="787" y="942" width="3" height="2"/><text class="lf" x="791" y="946.3">Hean_Hean8g00425</text></g>
<g id="Sahy_Sahy22g00548"><rect class="lm" x="759" y="950" width="3" height="2"/><text class="lf" x="763" y="954.3">Sahy_Sahy22g00548</text></g>
<g id="Poy_Poy3g01883"><rect class="lm" x="750" y="958" width="3" height="2"/><text class="lf" x="754" y="962.3">Poy_Poy3g01883</text></g>
<g id="Sain_Sain9g07752"><rect class="lm" x="750" y="966" width="3" height="2"/><text class="lf" x="754" y="970.3">Sain_Sain9g07752</text></g>
<g id="Cali_Cali6g02802"><rect class="lm" x="799" y="974" width="3" height="2"/><text class="lf" x="803" y="978.3">Cali_Cali6g02802</text></g>
<g id="Afla_Afla5g00588"><rect class="lm" x="812" y="979" width="3" height="2"/><text class="lf" x="816" y="983.3">Afla_Afla5g00588</text></g>
<g id="Amni_Amni5g01093"><rect class="lm" x="812" y="990" width="3" height="2"/><text class="lf" x="816" y="994.3">Amni_Amni5g01093</text></g>
</g>
</svg>
